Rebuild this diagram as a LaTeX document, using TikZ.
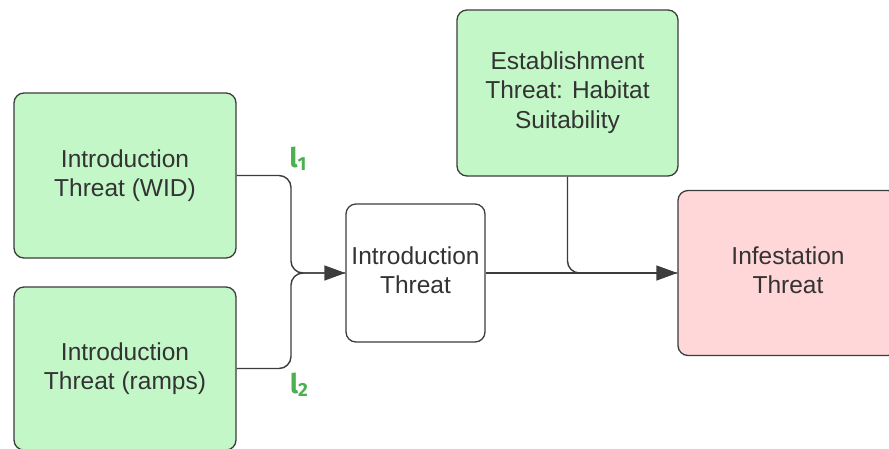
\documentclass[tikz,border=0pt]{standalone}
\usepackage{fontspec}
\setmainfont{Liberation Sans}
\newfontfamily\tagfont{Fira Sans}
\usetikzlibrary{arrows.meta}

\definecolor{boxgreen}{HTML}{C3F7C8}
\definecolor{boxpink}{HTML}{FFD7D9}
\definecolor{edgegray}{HTML}{3C3C3C}
\definecolor{textgray}{HTML}{333333}
\definecolor{taggreen}{HTML}{4CAF50}

\newcommand{\lifted}[1]{\raisebox{3pt}{\begin{tabular}{@{}c@{}}#1\end{tabular}}}

\tikzset{
  threat/.style={draw=edgegray, line width=1.3pt, rounded corners=10pt,
    align=center, text=textgray, inner sep=0pt,
    font=\fontsize{24.5}{29.5}\selectfont},
  greenbox/.style={threat, fill=boxgreen},
  pinkbox/.style={threat, fill=boxpink},
  whitebox/.style={threat, fill=white},
  link/.style={draw=edgegray, line width=1.4pt, rounded corners=12pt},
  arrowlink/.style={link, -{Triangle[length=21pt, width=15pt]}},
  tag/.style={text=taggreen, inner sep=0pt,
    font=\tagfont\bfseries\fontsize{27}{30}\selectfont}
}

\begin{document}
\begin{tikzpicture}[x=1pt, y=-1pt]
  \useasboundingbox (0,0) rectangle (889,448);
  \clip (0,0) rectangle (889,448);

  % boxes
  \node[greenbox, minimum width=222pt, minimum height=165pt] (wid) at (125,175.5)
    {Introduction\\Threat (WID)};
  \node[greenbox, minimum width=222pt, minimum height=163pt] (ramps) at (125,368.5)
    {Introduction\\Threat (ramps)};
  \node[whitebox, minimum width=139pt, minimum height=138pt] (intro) at (415.5,273)
    {\lifted{Introduction\\Threat}};
  \node[greenbox, minimum width=221pt, minimum height=166pt] (estab) at (567.5,93)
    {\lifted{Establishment\\Threat: Habitat\\Suitability}};
  \node[pinkbox, minimum width=220pt, minimum height=165pt] (infest) at (788,273)
    {\lifted{Infestation\\Threat}};

  % merge point of the two introduction pathways
  \coordinate (merge) at (291,273);

  % connectors
  \draw[arrowlink] (wid.east) -| (merge) -- (intro.west);
  \draw[link] (ramps.east) -| (merge) -- (intro.west);
  \draw[arrowlink] (intro.east) -- (infest.west);
  \draw[link] (estab.south) |- (infest.west);

  % pathway labels
  \node[tag] (l1) at (298,159)
    {l\raisebox{-3pt}{\fontsize{19}{22}\selectfont 1}};
  \node[tag] (l2) at (299,385)
    {l\raisebox{-3pt}{\fontsize{19}{22}\selectfont 2}};
\end{tikzpicture}
\end{document}
